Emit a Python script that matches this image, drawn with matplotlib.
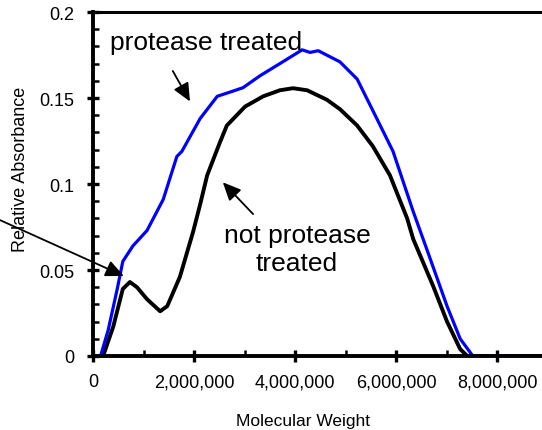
import matplotlib
matplotlib.use("Agg")
import matplotlib.pyplot as plt
from matplotlib.ticker import MultipleLocator, FuncFormatter

plt.rcParams['font.family'] = ['Liberation Sans', 'DejaVu Sans']

# absorbance profiles read across molecular weight
mw_treated = [0.15e6, 0.30e6, 0.48e6, 0.59e6, 0.79e6, 1.07e6, 1.39e6, 1.66e6, 1.76e6,
              2.12e6, 2.46e6, 2.77e6, 2.97e6, 3.31e6, 3.70e6, 4.14e6, 4.30e6, 4.46e6,
              4.89e6, 5.23e6, 5.62e6, 5.94e6, 6.34e6, 6.61e6, 7.01e6, 7.27e6, 7.52e6, 8.9e6]
abs_treated = [0.0, 0.015, 0.039, 0.055, 0.064, 0.073, 0.091, 0.116, 0.119,
               0.138, 0.151, 0.154, 0.156, 0.163, 0.170, 0.178, 0.1765, 0.1775,
               0.171, 0.161, 0.138, 0.119, 0.084, 0.062, 0.029, 0.010, 0.0, 0.0]

mw_untreated = [0.20e6, 0.40e6, 0.59e6, 0.73e6, 0.87e6, 1.07e6, 1.33e6, 1.47e6, 1.72e6,
                1.98e6, 2.12e6, 2.26e6, 2.51e6, 2.65e6, 3.01e6, 3.37e6, 3.70e6, 3.96e6,
                4.24e6, 4.63e6, 4.89e6, 5.23e6, 5.54e6, 5.88e6, 6.22e6, 6.34e6, 6.73e6,
                7.01e6, 7.27e6, 7.41e6, 8.9e6]
abs_untreated = [0.0, 0.017, 0.039, 0.043, 0.040, 0.033, 0.026, 0.029, 0.046,
                 0.072, 0.088, 0.105, 0.124, 0.134, 0.145, 0.151, 0.1545, 0.1557,
                 0.1545, 0.149, 0.1435, 0.134, 0.122, 0.105, 0.080, 0.068, 0.041,
                 0.020, 0.004, 0.0, 0.0]

fig = plt.figure(figsize=(5.42, 4.31), dpi=100)
ax = fig.add_axes([0.1716, 0.1717, 0.8284, 0.7981])

ax.plot(mw_untreated, abs_untreated, color='black', lw=2.8, solid_joinstyle='round')
ax.plot(mw_treated, abs_treated, color='#0000ff', lw=2.3, solid_joinstyle='round')

ax.set_xlim(0, 8.89e6)
ax.set_ylim(0, 0.2)

ax.xaxis.set_major_locator(MultipleLocator(2e6))
ax.xaxis.set_minor_locator(MultipleLocator(1e6))
ax.yaxis.set_major_locator(MultipleLocator(0.05))
ax.yaxis.set_minor_locator(MultipleLocator(0.01))
ax.xaxis.set_major_formatter(FuncFormatter(lambda v, p: f"{v:,.0f}"))
ax.yaxis.set_major_formatter(FuncFormatter(lambda v, p: f"{v:g}"))

ax.tick_params(which='major', direction='inout', length=9, width=2.4, labelsize=13)
ax.tick_params(axis='y', which='major', pad=9)
ax.tick_params(axis='x', which='major', pad=8)
ax.tick_params(which='minor', direction='in', length=4, width=1.8)

ax.spines['right'].set_visible(False)
ax.spines['left'].set_linewidth(2.8)
ax.spines['bottom'].set_linewidth(2.8)
ax.spines['top'].set_linewidth(2.2)

fig.text(0.037, 0.608, 'Relative Absorbance', rotation=90, ha='center', va='center',
         fontsize=13)
fig.text(0.559, 0.023, 'Molecular Weight', ha='center', va='center', fontsize=12.5)

ax.text(2.24e6, 0.1825, 'protease treated', ha='center', va='center', fontsize=19)
ax.text(4.04e6, 0.062, 'not protease\ntreated', ha='center', va='center',
        fontsize=19, linespacing=1.2)

arrow = dict(arrowstyle='-|>,head_length=1.1,head_width=0.5', color='black', lw=1.3,
             shrinkA=0, shrinkB=0)
ax.annotate('', xy=(1.92e6, 0.148), xytext=(1.58e6, 0.1657), arrowprops=arrow)
ax.annotate('', xy=(2.57e6, 0.101), xytext=(3.17e6, 0.0825), arrowprops=arrow)
ax.annotate('', xy=(0.61e6, 0.0465), xytext=(-1.84e6, 0.079), arrowprops=arrow,
            annotation_clip=False)

fig.savefig('out.png', dpi=100)
